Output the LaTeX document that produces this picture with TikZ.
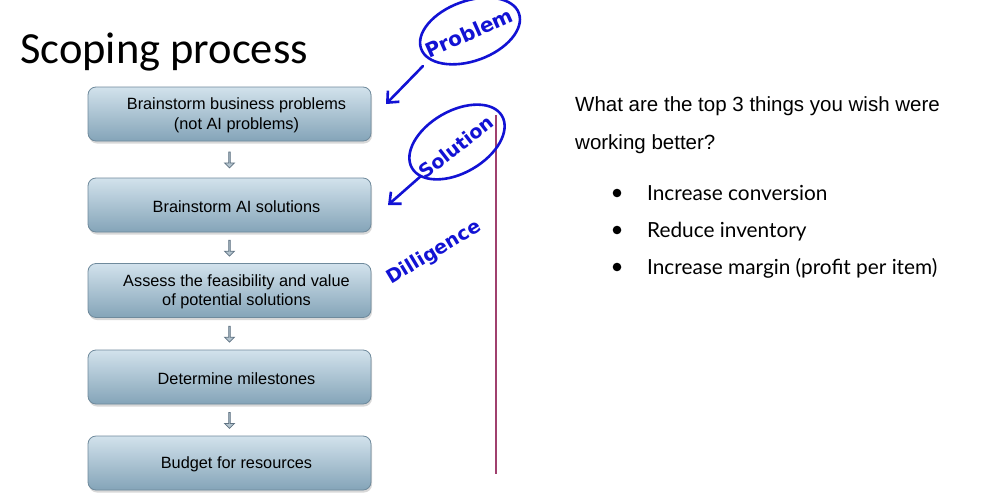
\documentclass[tikz,border=0pt]{standalone}
\usepackage{fontspec}
\setmainfont{Liberation Sans}
\newfontfamily\titlefont{Carlito}
\newfontfamily\bulletfont{Lato}
\newfontfamily\penfont{DejaVu Sans}
\usetikzlibrary{shapes.arrows,shapes.geometric,shadows,arrows.meta}
\definecolor{boxtop}{HTML}{D2E2EC}
\definecolor{boxbot}{HTML}{84A4B8}
\definecolor{boxline}{HTML}{6F8A9C}
\definecolor{arrowfill}{HTML}{B4C4CE}
\definecolor{arrowline}{HTML}{5F7282}
\definecolor{pen}{HTML}{1212D4}
\definecolor{rule}{HTML}{A0406E}
\tikzset{
  stepbox/.style={rectangle, rounded corners=8pt, draw=boxline, line width=0.8pt,
    top color=boxtop, bottom color=boxbot, minimum width=283pt, minimum height=54pt,
    drop shadow={shadow xshift=1pt, shadow yshift=-2.5pt, opacity=0.3}},
  steptext/.style={align=center, xshift=7pt, yshift=-1.5pt, text=black,
    font=\fontsize{16.3}{19.5}\selectfont},
  downarrow/.style={single arrow, shape border rotate=270, draw=arrowline, fill=arrowfill,
    line width=0.7pt, minimum height=16pt, minimum width=10pt, inner sep=0pt,
    single arrow head extend=1.8pt},
  penring/.style={draw=pen, line width=2.6pt, ellipse},
  penline/.style={pen, line width=2.6pt, line cap=round, line join=round},
  pentext/.style={pen, inner sep=0pt, font=\penfont\bfseries\fontsize{#1}{#1}\selectfont},
  bullettext/.style={anchor=base west, inner sep=0pt, font=\bulletfont\fontsize{20.8}{24}\selectfont},
}
\begin{document}
\begin{tikzpicture}[x=1pt,y=-1pt]
\useasboundingbox (0,0) rectangle (1006,498);
\fill[white] (0,0) rectangle (1006,498);

% title
\node[anchor=base west, inner sep=0pt, font=\titlefont\fontsize{44.5}{44.5}\selectfont] (title) at (20,63) {Scoping process};

% process steps
\node[stepbox, label={[steptext]center:{Brainstorm business problems\\(not AI problems)}}] (s1) at (229.5,114) {};
\node[stepbox, label={[steptext]center:{Brainstorm AI solutions}}] (s2) at (229.5,205) {};
\node[stepbox, label={[steptext]center:{Assess the feasibility and value\\of potential solutions}}] (s3) at (229.5,290.5) {};
\node[stepbox, label={[steptext]center:{Determine milestones}}] (s4) at (229.5,377) {};
\node[stepbox, label={[steptext]center:{Budget for resources}}] (s5) at (229.5,463) {};

\path (s1) -- (s2) node[midway, downarrow] (a12) {};
\path (s2) -- (s3) node[midway, downarrow] (a23) {};
\path (s3) -- (s4) node[midway, downarrow] (a34) {};
\path (s4) -- (s5) node[midway, downarrow] (a45) {};

% vertical rule
\coordinate (rtop) at (496,115);
\coordinate (rbot) at (496,474);
\draw[rule, line width=2pt] (rtop) -- (rbot);

% pen annotations
\node[penring, minimum width=104pt, minimum height=60pt, rotate=20] (pe) at (470,31) {};
\node[pentext=20, rotate=24] (pt) at (469,33) {Problem};
\coordinate (p1) at (423,66);
\coordinate (p2) at (386,104);
\draw[penline, -{Straight Barb[length=9pt, width=16pt]}] (p1) -- (p2);

\node[penring, minimum width=104pt, minimum height=62pt, rotate=30] (se) at (457,142) {};
\node[pentext=19, rotate=38] (st) at (456,147) {Solution};
\coordinate (q1) at (421,176);
\coordinate (q2) at (388,205);
\draw[penline, -{Straight Barb[length=9pt, width=16pt]}] (q1) -- (q2);

\node[pentext=19, rotate=31] (dt) at (434,253) {Dilligence};

% question and list
\node[anchor=base west, inner sep=0pt, font=\fontsize{20.5}{24}\selectfont] (q) at (575,111) {What are the top 3 things you wish were};
\node[anchor=base west, inner sep=0pt, font=\fontsize{20.5}{24}\selectfont] (q2l) at (575,149) {working better?};

\fill (617,193) circle (4.3pt) coordinate (b1);
\fill (617,230) circle (4.3pt) coordinate (b2);
\fill (617,267) circle (4.3pt) coordinate (b3);
\node[bullettext] (l1) at (647,200) {Increase conversion};
\node[bullettext] (l2) at (647,237) {Reduce inventory};
\node[bullettext] (l3) at (647,274) {Increase margin (profit per item)};
\end{tikzpicture}
\end{document}
